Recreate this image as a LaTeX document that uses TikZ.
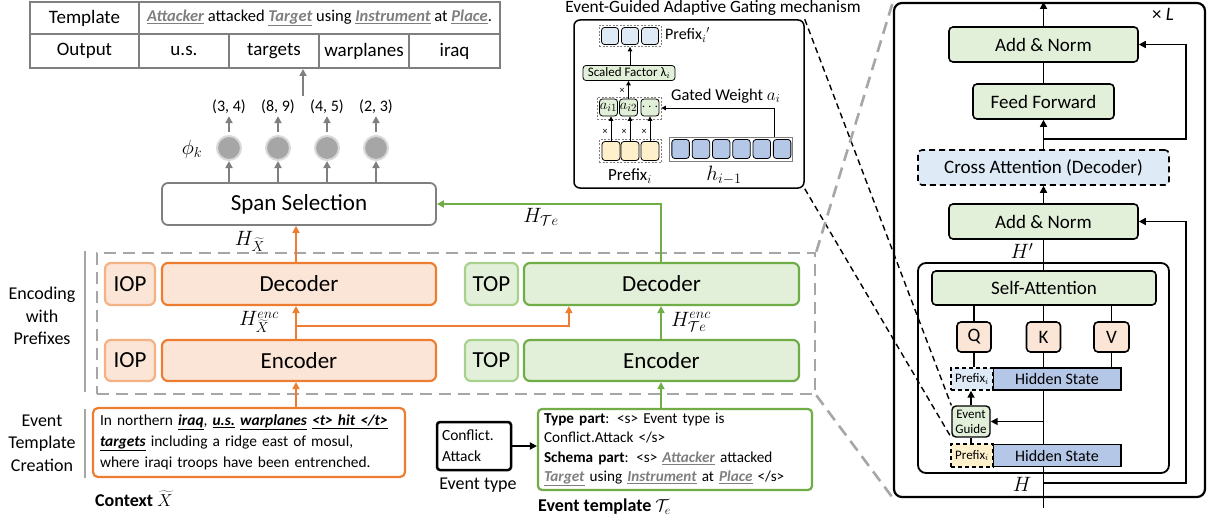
\documentclass[tikz,border=0pt]{standalone}
\usepackage{fontspec}
\setmainfont{Carlito}
\usetikzlibrary{arrows.meta,calc}
\definecolor{ob}{HTML}{ED7D31}
\definecolor{of}{HTML}{FBE5D6}
\definecolor{olb}{HTML}{F4B183}
\definecolor{gb}{HTML}{70AD47}
\definecolor{gf}{HTML}{E2F0D9}
\definecolor{glb}{HTML}{A9D18E}
\definecolor{gr}{HTML}{7F7F7F}
\definecolor{lgr}{HTML}{A6A6A6}
\definecolor{cring}{HTML}{D9D9D9}
\definecolor{bf}{HTML}{B4C7E7}
\definecolor{lbf}{HTML}{DEEBF7}
\definecolor{yf}{HTML}{FFF0CC}
\newcommand{\fsz}[2]{\fontsize{#1}{#2}\selectfont}
\newcommand{\gw}[1]{\textcolor{gr}{\underline{\textbf{\textit{#1}}}}}
\newcommand{\bw}[1]{\underline{\textbf{\textit{#1}}}}
\begin{document}
\begin{tikzpicture}[x=1pt,y=-1pt,
  every node/.style={inner sep=0pt},
  tip/.style={-{Triangle[length=7pt,width=7pt]}},
  stip/.style={-{Triangle[length=4.5pt,width=4.5pt]}},
  cell/.style={draw=gr, line width=2pt, font=\fsz{19}{22}},
  garr/.style={draw=gr, line width=1.8pt, tip},
  oarr/.style={draw=ob, line width=2pt, tip},
  grarr/.style={draw=gb, line width=2pt, tip},
  rarr/.style={draw=black, line width=1.6pt, tip},
  rline/.style={draw=black, line width=1.6pt},
  sarr/.style={draw=black, line width=0.9pt, stip},
  circ/.style={circle, fill=lgr, draw=cring, line width=2pt, minimum size=24pt},
  big/.style={rounded corners=6pt, line width=2.2pt, font=\fsz{23}{27}},
  obox/.style={big, draw=ob, fill=of},
  iop/.style={big, draw=olb, fill=of},
  gbox/.style={big, draw=gb, fill=gf},
  topb/.style={big, draw=glb, fill=gf},
  mlab/.style={font=\fsz{20}{22}},
  side/.style={font=\fsz{18}{22.5}, align=center},
  rbox/.style={draw=black, line width=1.6pt, rounded corners=4pt, fill=gf, font=\fsz{19}{22}},
  hstate/.style={draw=black, line width=1.4pt, fill=bf, font=\fsz{16}{18}, minimum width=128pt, minimum height=22pt},
  smallbox/.style={draw=black, line width=0.8pt, rounded corners=3pt},
  dcont/.style={draw=gr, line width=0.8pt, dash pattern=on 2pt off 1.5pt},
  bdash/.style={draw=black, line width=1.4pt, dash pattern=on 6pt off 4pt},
  gdash/.style={draw=lgr, line width=2.6pt, dash pattern=on 12pt off 7pt}
]
\useasboundingbox (0,0) rectangle (1213,519);

% ---------- output table ----------
\node[cell, minimum width=109pt, minimum height=32pt] (tt) at (84.5,18) {Template};
\node[cell, minimum width=361pt, minimum height=32pt, font=\fsz{16.5}{19}] (tx) at (319.5,18)
  {\gw{Attacker} attacked \gw{Target} using \gw{Instrument} at \gw{Place}.};
\node[cell, minimum width=109pt, minimum height=34pt] (to) at (84.5,51) {Output};
\node[cell, minimum width=90pt, minimum height=34pt] (o1) at (184,51) {u.s.};
\node[cell, minimum width=90pt, minimum height=34pt] (o2) at (274,51) {targets};
\node[cell, minimum width=90pt, minimum height=34pt] (o3) at (364,51) {warplanes};
\node[cell, minimum width=91pt, minimum height=34pt] (o4) at (454.5,51) {iraq};
\coordinate (oa) at (303,96);
\draw[garr] (oa) -- (oa |- o2.south);

% ---------- span selection ----------
\node[big, draw=gr, line width=1.8pt, minimum width=274pt, minimum height=42pt] (span) at (299,204) {Span Selection};
\foreach \i/\x/\t in {1/229/{(3, 4)},2/278/{(8, 9)},3/327/{(4, 5)},4/376/{(2, 3)}} {
  \node[font=\fsz{16}{18}, inner sep=2pt] (l\i) at (\x,107) {\t};
  \node[circ] (c\i) at (\x,148) {};
  \draw[garr, shorten <=3pt] (c\i.north) -- (l\i.south);
  \draw[garr] (span.north -| c\i) -- (c\i.south);
}
\node[font=\fsz{22}{24}] (phi) at (192,149) {$\phi_k$};

% ---------- encoding with prefixes ----------
\node[draw=lgr, line width=2.6pt, dash pattern=on 12pt off 7pt, minimum width=718pt, minimum height=141pt] (enc) at (456,323.5) {};
\node[iop, minimum width=50pt, minimum height=42pt] (iop1) at (130,284) {IOP};
\node[obox, minimum width=274pt, minimum height=42pt] (dec1) at (299,284) {Decoder};
\node[iop, minimum width=50pt, minimum height=41pt] (iop2) at (130,360.5) {IOP};
\node[obox, minimum width=274pt, minimum height=41pt] (enc1) at (299,360.5) {Encoder};
\node[topb, minimum width=53pt, minimum height=42pt] (top1) at (491.5,284) {TOP};
\node[gbox, minimum width=275pt, minimum height=42pt] (dec2) at (661.5,284) {Decoder};
\node[topb, minimum width=53pt, minimum height=41pt] (top2) at (491.5,360.5) {TOP};
\node[gbox, minimum width=275pt, minimum height=41pt] (enc2) at (661.5,360.5) {Encoder};

\coordinate (ox) at (296,0);
\coordinate (gx) at (661,0);
\coordinate (br) at (296,326);
\draw[oarr] (enc1.north -| ox) -- (dec1.south -| ox);
\draw[oarr] (br) -| ([xshift=46pt]dec2.south west);
\draw[oarr] (dec1.north -| ox) -- (span.south -| ox);
\draw[grarr] (enc2.north -| gx) -- (dec2.south -| gx);
\draw[grarr] (dec2.north -| gx) |- (span.east);

\node[mlab] (hx) at (250,241) {$H_{\widetilde{X}}$};
\node[mlab] (hte) at (541,217) {$H_{\mathcal{T}e}$};
\node[mlab] (hxe) at (259,322) {$H^{enc}_{\widetilde{X}}$};
\node[mlab] (htee) at (691,322) {$H^{enc}_{\mathcal{T}e}$};

% side labels
\node[side] (sl1) at (42,316) {Encoding\\with\\Prefixes};
\node[side] (sl2) at (42,443) {Event\\Template\\Creation};
\draw[draw=lgr, line width=2pt] (85,251) -- (85,392);
\draw[draw=lgr, line width=2pt] (85,409) -- (85,478);

% ---------- event template creation ----------
\node[draw=ob, line width=2.2pt, rounded corners=5pt, fill=white, text width=298pt, inner xsep=7pt,
      minimum height=69pt, align=left, font=\fsz{15.4}{21}] (ctx) at (249,442.5)
 {In northern \bw{iraq}, \bw{u.s.} \bw{warplanes} \bw{<t> hit </t>}\\
  \bw{targets} including a ridge east of mosul,\\
  where iraqi troops have been entrenched.};
\node[anchor=west, font=\fsz{18}{20}] (ctxl) at (95,499) {\textbf{Context} $\widetilde{X}$};
\draw[oarr] (ctx.north -| ox) -- (enc1.south -| ox);

\node[draw=black, line width=2.5pt, rounded corners=3pt, text width=64pt, inner xsep=5pt,
      minimum height=48pt, align=left, font=\fsz{15.5}{21}] (et) at (474,446) {Conflict.\\Attack};
\node[font=\fsz{18}{20}] (etl) at (478,485) {Event type};

\node[draw=gb, line width=2.2pt, rounded corners=4pt, fill=white, text width=262pt, inner xsep=6pt,
      minimum height=81pt, align=left, font=\fsz{15.2}{19.5}] (tmpl) at (675,449.5)
 {\textbf{Type part}: <s> Event type is\\
  Conflict.Attack </s>\\
  \textbf{Schema part}: <s> \gw{Attacker} attacked\\
  \gw{Target} using \gw{Instrument} at \gw{Place} </s>};
\node[anchor=west, font=\fsz{18}{20}] (tmpll) at (538,507) {\textbf{Event template} $\mathcal{T}_e$};
\draw[rarr, line width=2pt] (et.east) -- (et.east -| tmpl.west);
\draw[grarr] (tmpl.north -| gx) -- (enc2.south -| gx);

% ---------- gating mechanism ----------
\node[font=\fsz{17.3}{20}] (gtitle) at (713,8) {Event-Guided Adaptive Gating mechanism};
\node[draw=black, line width=1.5pt, rounded corners=6pt, minimum width=230pt, minimum height=168pt] (gate) at (689,104) {};

\node[dcont, minimum width=62pt, minimum height=21pt] (pc) at (630,36) {};
\foreach \i/\x in {1/610,2/630,3/650} {
  \node[smallbox, fill=lbf, minimum width=17pt, minimum height=17pt] (pp\i) at (\x,36) {};
}
\node[anchor=west, font=\fsz{16}{18}] (ppl) at (665,35) {Prefix$_i{}'$};

\node[smallbox, fill=gf, minimum width=92pt, minimum height=15pt, font=\fsz{13}{14}] (sf) at (629,73) {Scaled Factor λ$_i$};
\draw[sarr] (sf.north -| pc.south) -- (pc.south);

\node[dcont, minimum width=64pt, minimum height=22pt] (ac) at (629,108) {};
\node[smallbox, fill=gf, minimum width=18pt, minimum height=17pt, font=\fsz{15}{16}] (a1) at (608.5,107.5) {$a_{i1}$};
\node[smallbox, fill=gf, minimum width=18pt, minimum height=17pt, font=\fsz{15}{16}] (a2) at (628.5,107.5) {$a_{i2}$};
\node[smallbox, fill=gf, minimum width=18pt, minimum height=17pt, font=\fsz{14}{16}] (a3) at (650,107.5) {$\cdots$};
\draw[sarr] (a2.north) -- (a2.north |- sf.south);
\node[font=\fsz{10}{11}] (xm0) at (622,91) {×};
\node[anchor=west, font=\fsz{16.5}{18}] (gwl) at (671,96) {Gated Weight $a_i$};

\node[dcont, minimum width=62pt, minimum height=23pt] (yc) at (630,151) {};
\foreach \i/\x in {1/611,2/630,3/650} {
  \node[smallbox, fill=yf, minimum width=18pt, minimum height=19pt] (y\i) at (\x,151) {};
  \draw[sarr] (y\i.north) -- (y\i.north |- a\i.south);
  \node[font=\fsz{10}{11}] (xm\i) at ($(\x,132)+(-6,0)$) {×};
}
\node[draw=gr, line width=0.8pt, minimum width=123pt, minimum height=24pt] (hc) at (730.5,149) {};
\foreach \i in {1,...,6} {
  \node[smallbox, fill=bf, minimum width=17.5pt, minimum height=19pt] (h\i) at ({660.3+20.3*\i},149) {};
}
\draw[sarr] ([xshift=-18pt]hc.north east) |- (ac.east);
\node[font=\fsz{17}{19}] (pfl) at (630,176) {Prefix$_i$};
\node[font=\fsz{20}{22}] (hl) at (724,175) {$h_{i-1}$};

% ---------- transformer layer ----------
\node[draw=black, line width=2.2pt, rounded corners=8pt, minimum width=311pt, minimum height=494pt] (bigb) at (1049.5,250) {};
\node[font=\fsz{19}{21}] (xl) at (1163,14) {× \textit{L}};
\node[rbox, minimum width=189pt, minimum height=35pt] (an1) at (1043.5,44.5) {Add \& Norm};
\node[rbox, minimum width=141pt, minimum height=35pt] (ff) at (1043.5,101.5) {Feed Forward};
\node[rbox, fill=lbf, dash pattern=on 6pt off 4pt, minimum width=251pt, minimum height=35pt] (ca) at (1043.5,167.5) {Cross Attention (Decoder)};
\node[rbox, minimum width=189pt, minimum height=35pt] (an2) at (1043.5,221.5) {Add \& Norm};
\node[draw=black, line width=1.8pt, rounded corners=8pt, minimum width=251pt, minimum height=210pt] (inner) at (1043.5,368) {};
\node[rbox, minimum width=224pt, minimum height=34pt] (sa) at (1044,288) {Self-Attention};
\node[rbox, fill=of, minimum width=34pt, minimum height=30pt] (q) at (974,337) {Q};
\node[rbox, fill=of, minimum width=34pt, minimum height=30pt] (k) at (1043.5,337) {K};
\node[rbox, fill=of, minimum width=35pt, minimum height=30pt] (v) at (1111.5,337) {V};
\node[hstate] (hs1) at (1057,379) {Hidden State};
\node[draw=black, line width=1.4pt, dash pattern=on 4pt off 3pt, fill=lbf, minimum width=42pt, minimum height=22pt, font=\fsz{13}{14}] (pre1) at (972,379) {Prefix$_i$};
\node[rbox, line width=1.4pt, minimum width=38pt, minimum height=31pt, align=center, font=\fsz{13}{15}] (eg) at (971,421.5) {Event\\Guide};
\node[hstate] (hs2) at (1057,455.5) {Hidden State};
\node[draw=black, line width=1.4pt, dash pattern=on 4pt off 3pt, fill=yf, minimum width=42pt, minimum height=23pt, font=\fsz{13}{14}] (pre2) at (972,455.5) {Prefix$_i$};

\coordinate (mx) at (1043.5,0);
\coordinate (rx) at (1186,0);
\coordinate (r1) at (1043.5,139);
\coordinate (r2) at (1043.5,483);
\coordinate (bot) at (1043.5,508);
\draw[rarr] (an1.north) -- (an1.north |- bigb.north);
\draw[rline] (an1.south) -- (ff.north);
\draw[rarr] (ca.north) -- (ff.south);
\draw[rarr] (r1) -- (r1 -| rx) |- (an1.east);
\draw[rarr] (an2.north) -- (ca.south);
\draw[rline] (sa.north -| mx) -- (an2.south);
\foreach \n in {q,k,v} {
  \draw[rline] (\n.north) -- (\n.north |- sa.south);
  \draw[rline] (\n.south) -- (\n.south |- hs1.north);
}
\draw[rline] (hs1.south -| mx) -- (hs2.north -| mx);
\draw[rarr] (mx |- eg.east) -- (eg.east);
\draw[rarr] (eg.north) -- (eg.north |- pre1.south);
\draw[rline] (pre2.north -| eg.south) -- (eg.south);
\draw[rline] (bot) -- (hs2.south -| mx);
\draw[rarr] (r2) -- (r2 -| rx) |- (an2.east);
\node[font=\fsz{20}{22}] (hp) at (1022,251) {$H'$};
\node[font=\fsz{20}{22}] (hh) at (1022,484) {$H$};

% ---------- zoom connectors ----------
\draw[bdash] (gate.north east) -- (eg.north west);
\draw[bdash] (gate.south east) -- (eg.south west);
\draw[gdash] (enc.north east) -- (bigb.north west);
\draw[gdash] (enc.south east) -- (bigb.south west);
\end{tikzpicture}
\end{document}
